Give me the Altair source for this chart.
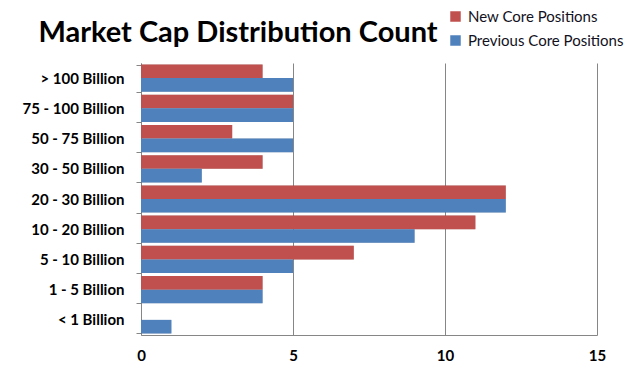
import altair as alt
import pandas as pd

categories = ["> 100 Billion", "75 - 100 Billion", "50 - 75 Billion", "30 - 50 Billion",
              "20 - 30 Billion", "10 - 20 Billion", "5 - 10 Billion", "1 - 5 Billion", "<  1 Billion"]
new_core = [4, 5, 3, 4, 12, 11, 7, 4, 0]
prev_core = [5, 5, 5, 2, 12, 9, 5, 4, 1]
series = ["New Core Positions", "Previous Core Positions"]
colors = ["#C0504D", "#4F81BD"]
x_ticks = [0, 5, 10, 15]
title_text = ["Market Cap Distribution Count"]

rows = []
for c, n, p in zip(categories, new_core, prev_core):
    rows.append({"cat": c, "series": series[0], "value": n})
    rows.append({"cat": c, "series": series[1], "value": p})
df = pd.DataFrame(rows)

FONT = "Lato"

y_enc = alt.Y("cat:N", sort=categories, title=None,
              scale=alt.Scale(paddingInner=0.1, paddingOuter=0.05),
              axis=alt.Axis(labelFont=FONT, labelFontWeight="bold", labelFontSize=15,
                            labelColor="#000000", domainColor="#868686", tickColor="#868686",
                            tickBand="extent", tickSize=5, labelPadding=12, grid=False))
x_enc = alt.X("value:Q", title=None,
              scale=alt.Scale(domain=[0, 15], nice=False),
              axis=alt.Axis(values=x_ticks, labelFont=FONT, labelFontWeight="bold", labelFontSize=15,
                            labelColor="#000000", domainColor="#868686", ticks=False,
                            labelPadding=13, grid=True, gridColor="#868686", labelFlush=False))

shadow = alt.Chart(df).mark_bar(color="#000000", opacity=0.22, x2Offset=3, y2Offset=3).encode(
    y=y_enc, x=x_enc, yOffset=alt.YOffset("series:N", sort=series)
)

bars = alt.Chart(df).mark_bar().encode(
    y=y_enc,
    x=x_enc,
    yOffset=alt.YOffset("series:N", sort=series),
    color=alt.Color("series:N", sort=series,
                    scale=alt.Scale(domain=series, range=colors),
                    legend=alt.Legend(title=None, orient="none", legendX=307, legendY=-54,
                                      symbolType="square", symbolSize=110, symbolStrokeWidth=0,
                                      labelFont=FONT, labelFontSize=15, labelColor="#111122",
                                      rowPadding=8, labelOffset=5)),
)

title = alt.Chart(pd.DataFrame({"t": title_text})).mark_text(
    font=FONT, fontSize=29, fontWeight="bold", color="#000000", align="center", baseline="alphabetic"
).encode(text="t:N", x=alt.value(97), y=alt.value(-21))

chart = alt.layer(shadow, bars, title).properties(
    width=456, height=272,
    autosize=alt.AutoSizeParams(type="none"),
    padding={"left": 133, "top": 55, "right": 33, "bottom": 45},
).configure_view(stroke=None)

chart.save("out.html", embed_options={"renderer": "svg", "actions": False})
